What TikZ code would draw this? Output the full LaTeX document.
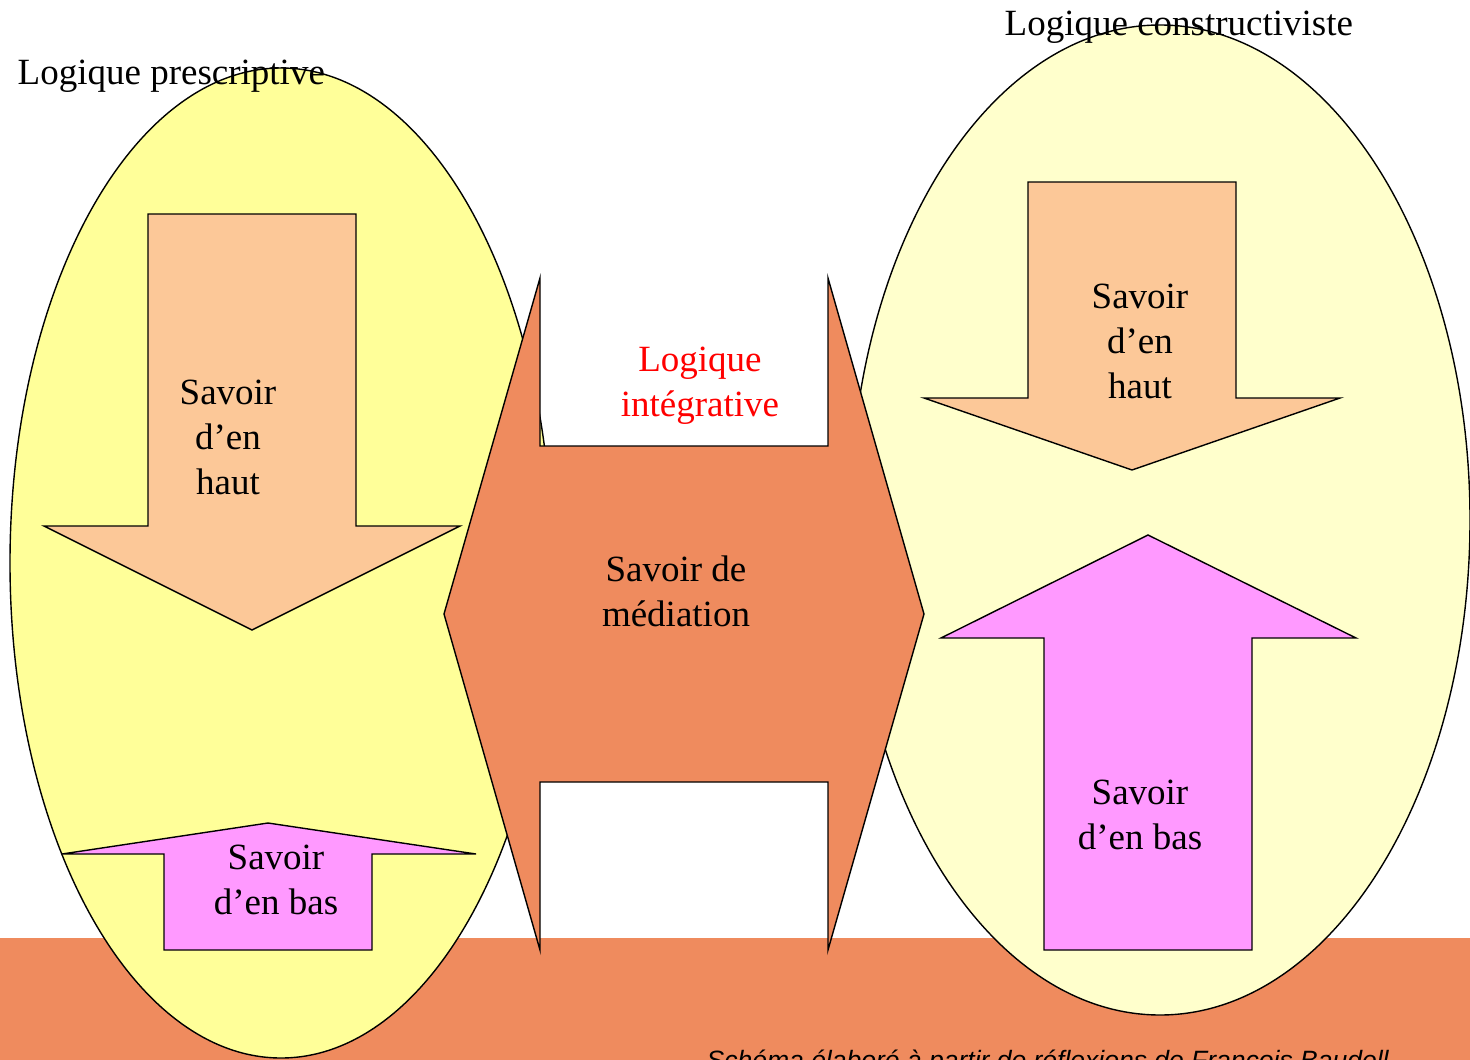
\documentclass[tikz,border=0pt]{standalone}
\usepackage{fontspec}
\setmainfont{Liberation Serif}
\newfontfamily\capfont{Liberation Sans}
\definecolor{bandorange}{RGB}{239,139,94}
\definecolor{leftyellow}{RGB}{255,255,153}
\definecolor{rightyellow}{RGB}{255,255,204}
\definecolor{peach}{RGB}{252,200,152}
\definecolor{pinkarrow}{RGB}{255,153,255}
\tikzset{
  bigtext/.style={font=\fontsize{37}{45}\selectfont, align=center, inner sep=0pt},
  downarrow/.style={draw, fill=peach},
  uparrow/.style={draw, fill=pinkarrow},
}
\begin{document}
\begin{tikzpicture}[x=1pt, y=-1pt, line width=1.4pt]
\useasboundingbox (0,0) rectangle (1470,1060);
\clip (0,0) rectangle (1470,1060);
\fill[bandorange] (0,938) rectangle (1470,1070);
\draw[fill=leftyellow] (281,563) ellipse [x radius=271, y radius=495];
\draw[fill=rightyellow] (1160,520) ellipse [x radius=310, y radius=495];
\draw[downarrow] (148,214) -- (356,214) -- (356,526) -- (460,526) -- (252,630) -- (44,526) -- (148,526) -- cycle;
\draw[uparrow] (268,823) -- (476,854) -- (372,854) -- (372,950) -- (164,950) -- (164,854) -- (62,854) -- cycle;
\draw[downarrow] (1028,182) -- (1236,182) -- (1236,398) -- (1340,398) -- (1132,470) -- (924,398) -- (1028,398) -- cycle;
\draw[uparrow] (1148,535) -- (1356,638) -- (1252,638) -- (1252,950) -- (1044,950) -- (1044,638) -- (941,638) -- cycle;
\draw[fill=bandorange] (444,614) -- (540,278) -- (540,446) -- (828,446) -- (828,278) -- (924,614)
  -- (828,950) -- (828,782) -- (540,782) -- (540,950) -- cycle;
\node[bigtext, anchor=base west] (L_pres) at (17,84) {Logique prescriptive};
\node[bigtext, anchor=base west] (L_cons) at (1004,35) {Logique constructiviste};
\node[bigtext, text=red] (L_int) at (700,386) {Logique\\intégrative};
\node[bigtext] (S_haut_l) at (228,437) {Savoir\\d’en\\haut};
\node[bigtext] (S_bas_l) at (276,880) {Savoir\\d’en bas};
\node[bigtext] (S_haut_r) at (1140,341) {Savoir\\d’en\\haut};
\node[bigtext] (S_bas_r) at (1140,815) {Savoir\\d’en bas};
\node[bigtext] (S_med) at (676,591) {Savoir de\\médiation};
\node[font=\capfont\itshape\fontsize{26.5}{30}\selectfont, anchor=base west, inner sep=0pt] (caption) at (706,1069) {Schéma élaboré à partir de réflexions de François Baudell};
\end{tikzpicture}
\end{document}
